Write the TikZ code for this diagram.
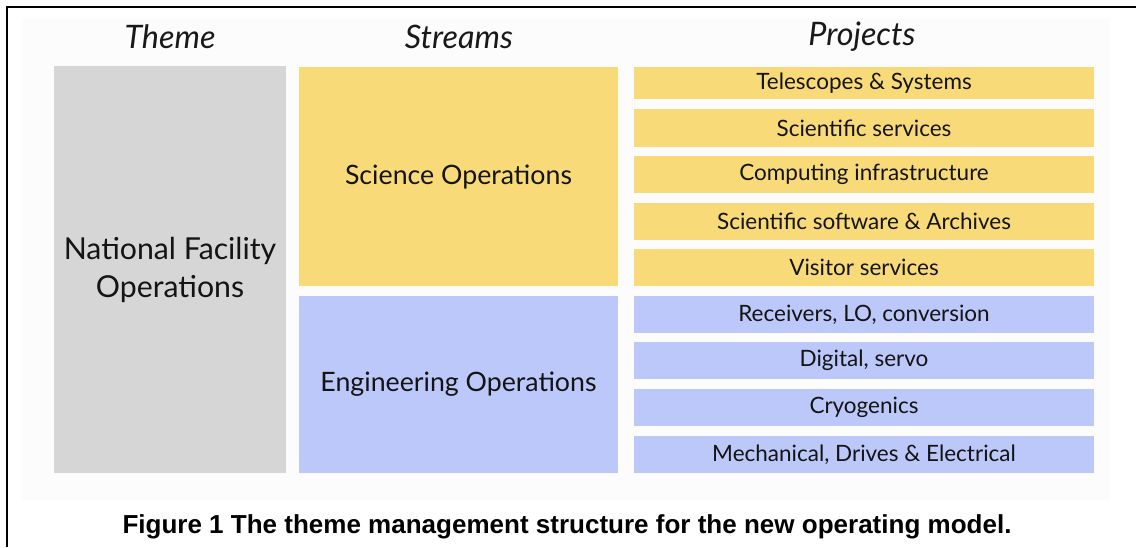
\documentclass[tikz,border=0pt]{standalone}
\usepackage{fontspec}
\usepackage{xcolor}
\usepackage{tikz}
\setmainfont{Lato}
\newfontfamily\capfont{Liberation Sans}

\definecolor{themegray}{HTML}{D6D6D6}
\definecolor{sciyellow}{HTML}{F8DB78}
\definecolor{engblue}{HTML}{BCC8FA}

\begin{document}
\begin{tikzpicture}[
		x=0.025cm, y=-0.025cm,
		header/.style={font=\fontsize{23}{27}\selectfont\itshape, text=black!90},
		block/.style={rectangle, inner sep=0pt, align=center, text=black!92},
		theme/.style={block, fill=themegray, minimum width=5.8cm, minimum height=10.15cm, font=\fontsize{21.5}{27}\selectfont},
		stream/.style={block, minimum width=7.975cm, font=\fontsize{19}{24}\selectfont},
		project/.style={block, minimum width=11.5cm, minimum height=0.925cm, font=\fontsize{16}{19}\selectfont},
		sci/.style={fill=sciyellow},
		eng/.style={fill=engblue}
	]
		\useasboundingbox (0,0) rectangle (1136,547);
		
		% Page frame and slide background
		\fill[black!1] (22,18) rectangle (1110,500);
		\draw[line width=1.6pt] (7,547) -- (7,7) -- (1136,7);
		
		% Column headings
		\node[header] (hTheme) at (170,37) {Theme};
		\node[header] (hStreams) at (459,37) {Streams};
		\node[header] (hProjects) at (862,37) {Projects};
		
		% Theme
		\node[theme] (nfo) at (170,269.5) {National Facility\\Operations};
		
		% Streams
		\node[stream, sci, minimum height=5.475cm] (sciops) at (458.5,176.5) {Science Operations};
		\node[stream, eng, minimum height=4.425cm] (engops) at (458.5,384.5) {Engineering Operations};
		
		% Science projects
		\node[project, sci, minimum height=0.8cm] (p1) at (864,83) {Telescopes \& Systems};
		\node[project, sci, minimum height=0.95cm] (p2) at (864,128) {Scientific services};
		\node[project, sci] (p3) at (864,174.5) {Computing infrastructure};
		\node[project, sci] (p4) at (864,221.5) {Scientific software \& Archives};
		\node[project, sci] (p5) at (864,267.5) {Visitor services};
		
		% Engineering projects
		\node[project, eng] (p6) at (864,314.5) {Receivers, LO, conversion};
		\node[project, eng] (p7) at (864,360.5) {Digital, servo};
		\node[project, eng] (p8) at (864,407.5) {Cryogenics};
		\node[project, eng] (p9) at (864,454.5) {Mechanical, Drives \& Electrical};
		
		% Caption
		\node[font=\capfont\bfseries\fontsize{18.5}{22}\selectfont] (caption) at (567,527) {Figure 1 The theme management structure for the new operating model.};
	\end{tikzpicture}
\end{document}
